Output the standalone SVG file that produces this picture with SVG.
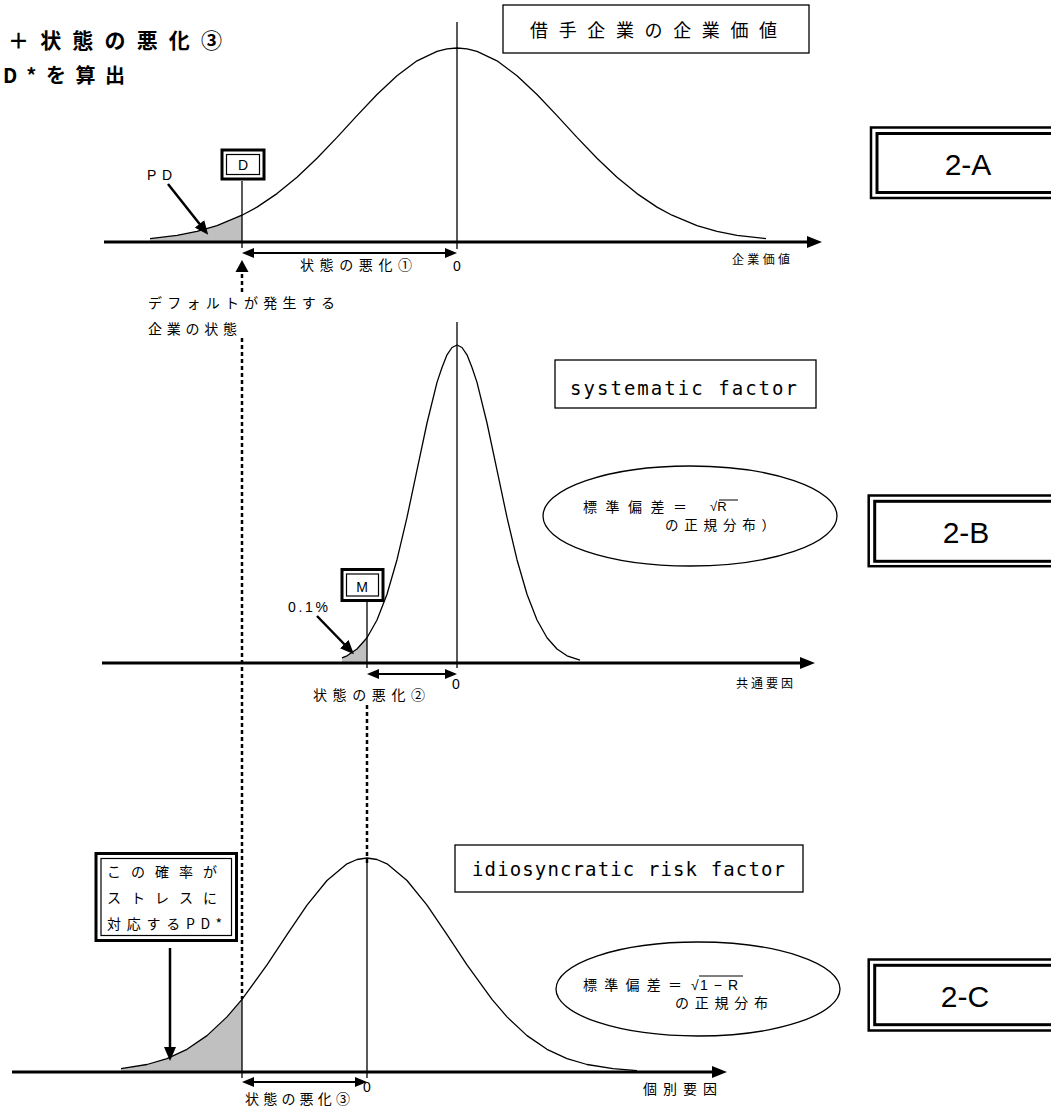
<svg xmlns="http://www.w3.org/2000/svg" width="1051" height="1109" viewBox="0 0 1051 1109">
  <style>
    .jp { font-family: "Noto Sans CJK JP", "Liberation Sans", sans-serif; fill: #000; }
    .lat { font-family: "Liberation Sans", Arial, sans-serif; fill: #000; }
    .mono { font-family: "DejaVu Sans Mono", "Liberation Mono", monospace; fill: #000; }
    .curve { fill: none; stroke: #000; stroke-width: 1.3; stroke-linejoin: round; }
    .shade { fill: #c0c0c0; stroke: none; }
    .axis { stroke: #000; stroke-width: 3; fill: none; }
    .thin { stroke: #000; stroke-width: 1.3; fill: none; }
    .dim { stroke: #000; stroke-width: 2; fill: none; }
    .dash { stroke: #000; stroke-width: 2.5; stroke-dasharray: 4 3; fill: none; }
    .ptr { stroke: #000; stroke-width: 2.5; fill: none; }
    .box { fill: #fff; stroke: #000; stroke-width: 1.3; }
    .frameOut { fill: #fff; stroke: #000; stroke-width: 2.5; }
    .frameIn { fill: none; stroke: #000; stroke-width: 3; }
    .tagOut { fill: #fff; stroke: #000; stroke-width: 3; }
    .tagIn { fill: none; stroke: #000; stroke-width: 1.2; }
  </style>
  <defs>
    <marker id="axisHead" markerUnits="userSpaceOnUse" markerWidth="16" markerHeight="12" refX="4" refY="6" orient="auto">
      <path d="M0,0 L15,6 L0,12 z" fill="#000"/>
    </marker>
    <marker id="dimHead" markerUnits="userSpaceOnUse" markerWidth="12" markerHeight="10" refX="3" refY="5" orient="auto-start-reverse">
      <path d="M0,0 L12,5 L0,10 z" fill="#000"/>
    </marker>
    <marker id="ptrHead" markerUnits="userSpaceOnUse" markerWidth="14" markerHeight="12" refX="4" refY="6" orient="auto">
      <path d="M0,0 L14,6 L0,12 z" fill="#000"/>
    </marker>
  </defs>

  <!-- heading -->
  <g id="heading">
    <text class="jp" x="8" y="48" font-size="21" font-weight="bold" textLength="214" lengthAdjust="spacing">＋状態の悪化③</text>
    <text class="jp" x="3" y="83" font-size="20" font-weight="bold" textLength="122" lengthAdjust="spacing">D*を算出</text>
  </g>

  <!-- panel 2-A : firm value -->
  <g id="panelA">
    <polygon class="shade" points="150,242 150,238.6 177,235.3 197,231.3 217,225.6 242,215.2 242,242"/>
    <polyline class="curve" points="150,238.6 177,235.3 197,231.3 217,225.6 242,215.2 257,207.1 277,193.6 297,177.2 317,158.2 337,137.4 357,115.6 377,94.5 397,75.7 417,60.8 437,51.3 447,48.8 457,48 467,48.8 477,51.3 497,60.8 517,75.7 537,94.5 557,115.6 577,137.4 597,158.2 617,177.2 637,193.6 657,207.1 672,215.2 697,225.6 717,231.3 737,235.3 766,238.6"/>
    <line class="thin" x1="457" y1="22" x2="457" y2="249"/>
    <line class="thin" x1="242" y1="181" x2="242" y2="248"/>
  </g>
  <g id="titleA">
    <rect class="box" x="503" y="5" width="306" height="48"/>
    <text class="jp" x="530" y="37" font-size="18" textLength="247" lengthAdjust="spacing">借手企業の企業価値</text>
  </g>
  <g id="boxD">
    <rect class="tagOut" x="222" y="150" width="42" height="29"/>
    <rect class="tagIn" x="226.5" y="154.5" width="33" height="20"/>
    <text class="lat" x="243" y="170" font-size="14" text-anchor="middle">D</text>
  </g>
  <g id="labelsA">
    <text class="lat" x="147" y="180" font-size="14" textLength="25" lengthAdjust="spacing">PD</text>
    <text class="jp" x="300" y="270" font-size="14" textLength="112" lengthAdjust="spacing">状態の悪化①</text>
    <text class="lat" x="457" y="271" font-size="14" text-anchor="middle">0</text>
    <text class="jp" x="732" y="264" font-size="12" textLength="58" lengthAdjust="spacing">企業価値</text>
    <text class="jp" x="148" y="308" font-size="14" textLength="187" lengthAdjust="spacing">デフォルトが発生する</text>
    <text class="jp" x="148" y="334" font-size="14" textLength="89" lengthAdjust="spacing">企業の状態</text>
  </g>
  <g id="tagA">
    <rect class="frameOut" x="871" y="127.5" width="200" height="70.5"/>
    <rect class="frameIn" x="877" y="133.5" width="200" height="59"/>
    <text class="lat" x="968" y="175" font-size="30" text-anchor="middle">2-A</text>
  </g>

  <!-- panel 2-B : systematic factor -->
  <g id="panelB">
    <polygon class="shade" points="342,663 342,657.9 347,655.8 357,649 367,637.7 367,663"/>
    <polyline class="curve" points="342,657.9 347,655.8 357,649 367,637.7 377,620 387,594.2 397,559.7 407,517.4 417,470.1 427,423 437,382.4 442,367.5 447,354.8 452,347.5 457,345 462,347.5 467,354.8 472,367.5 477,382.4 487,423 497,470.1 507,517.4 517,559.7 527,594.2 537,620 547,637.7 557,649 567,655.8 580,660.2"/>
    <line class="thin" x1="457" y1="322" x2="457" y2="668"/>
    <line class="thin" x1="367" y1="602" x2="367" y2="668"/>
  </g>
  <g id="titleB">
    <rect class="box" x="555" y="360" width="261" height="48"/>
    <text class="mono" x="570" y="395" font-size="19" textLength="227" lengthAdjust="spacing">systematic factor</text>
  </g>
  <g id="noteB">
    <ellipse class="box" cx="690" cy="516" rx="147" ry="50"/>
    <text class="jp" x="583" y="512" font-size="14" textLength="104" lengthAdjust="spacing">標準偏差＝</text>
    <text class="lat" x="710" y="511" font-size="13">√R</text>
    <line x1="719" y1="500" x2="738" y2="500" stroke="#000" stroke-width="1"/>
    <text class="jp" x="665" y="530" font-size="13.5" textLength="110" lengthAdjust="spacing">の正規分布）</text>
  </g>
  <g id="boxM">
    <rect class="tagOut" x="342" y="569.5" width="41" height="31"/>
    <rect class="tagIn" x="346.5" y="574" width="32" height="22"/>
    <text class="lat" x="362" y="592" font-size="14" text-anchor="middle">M</text>
  </g>
  <g id="labelsB">
    <text class="lat" x="288" y="612" font-size="14" textLength="40" lengthAdjust="spacing">0.1%</text>
    <text class="lat" x="456" y="689" font-size="14" text-anchor="middle">0</text>
    <text class="jp" x="313" y="700" font-size="14" textLength="112" lengthAdjust="spacing">状態の悪化②</text>
    <text class="jp" x="736" y="688" font-size="12" textLength="57" lengthAdjust="spacing">共通要因</text>
  </g>
  <g id="tagB">
    <rect class="frameOut" x="868.7" y="495.5" width="200" height="70.7"/>
    <rect class="frameIn" x="874.7" y="501.3" width="200" height="60"/>
    <text class="lat" x="966" y="543" font-size="30" text-anchor="middle">2-B</text>
  </g>

  <!-- panel 2-C : idiosyncratic risk factor -->
  <g id="panelC">
    <polygon class="shade" points="121,1072 121,1068.7 147,1064.5 167,1058.6 187,1049.3 207,1035.6 227,1016.9 242,999.4 242,1072"/>
    <polyline class="curve" points="121,1068.7 147,1064.5 167,1058.6 187,1049.3 207,1035.6 227,1016.9 242,999.4 267,964.9 287,934.6 307,905.2 327,880.5 347,863.8 357,859.5 367,858 377,859.5 387,863.8 407,880.5 427,905.2 447,934.6 467,964.9 492,999.4 507,1016.9 527,1035.6 547,1049.3 567,1058.6 587,1064.5 613,1068.7 637,1070.6"/>
    <line class="thin" x1="367" y1="858" x2="367" y2="1078"/>
    <line class="thin" x1="242" y1="999" x2="242" y2="1078"/>
  </g>
  <g id="titleC">
    <rect class="box" x="455" y="845" width="348" height="47"/>
    <text class="mono" x="472" y="876" font-size="19" textLength="313" lengthAdjust="spacing">idiosyncratic risk factor</text>
  </g>
  <g id="noteC">
    <ellipse class="box" cx="698" cy="989" rx="142" ry="47"/>
    <text class="jp" x="583" y="990" font-size="14" textLength="99" lengthAdjust="spacing">標準偏差＝</text>
    <text class="lat" x="691" y="990" font-size="14">√</text>
    <text class="lat" x="700" y="990" font-size="14" textLength="38" lengthAdjust="spacing">1 − R</text>
    <line x1="699" y1="976" x2="743" y2="976" stroke="#000" stroke-width="1"/>
    <text class="jp" x="675" y="1008" font-size="14" textLength="93" lengthAdjust="spacing">の正規分布</text>
  </g>
  <g id="boxPD">
    <rect class="tagOut" x="96" y="853.5" width="140.5" height="87"/>
    <rect class="tagIn" x="101" y="858.5" width="130.5" height="77"/>
    <text class="jp" x="107" y="877" font-size="14" textLength="110" lengthAdjust="spacing">この確率が</text>
    <text class="jp" x="107" y="903" font-size="14" textLength="110" lengthAdjust="spacing">ストレスに</text>
    <text class="jp" x="107" y="929" font-size="14" textLength="115" lengthAdjust="spacing">対応するPD*</text>
  </g>
  <g id="labelsC">
    <text class="lat" x="367" y="1092" font-size="14" text-anchor="middle">0</text>
    <text class="jp" x="245" y="1104" font-size="14" textLength="105" lengthAdjust="spacing">状態の悪化③</text>
    <text class="jp" x="643" y="1094" font-size="14" textLength="74" lengthAdjust="spacing">個別要因</text>
  </g>
  <g id="tagC">
    <rect class="frameOut" x="868.7" y="959.5" width="200" height="71"/>
    <rect class="frameIn" x="874.7" y="965.3" width="200" height="59.4"/>
    <text class="lat" x="965" y="1007" font-size="30" text-anchor="middle">2-C</text>
  </g>

  <!-- axes, dimension arrows, pointers and guide lines -->
  <g id="connectors">
    <line class="axis" x1="104" y1="242" x2="811" y2="242" marker-end="url(#axisHead)"/>
    <line class="axis" x1="102" y1="663" x2="804" y2="663" marker-end="url(#axisHead)"/>
    <line class="axis" x1="12" y1="1072" x2="716" y2="1072" marker-end="url(#axisHead)"/>

    <line class="dim" x1="251" y1="253" x2="448" y2="253" marker-start="url(#dimHead)" marker-end="url(#dimHead)"/>
    <line class="dim" x1="376" y1="674" x2="448" y2="674" marker-start="url(#dimHead)" marker-end="url(#dimHead)"/>
    <line class="dim" x1="251" y1="1082" x2="358" y2="1082" marker-start="url(#dimHead)" marker-end="url(#dimHead)"/>

    <line class="ptr" x1="168" y1="184" x2="202" y2="227" marker-end="url(#ptrHead)"/>
    <line class="ptr" x1="317" y1="616" x2="347" y2="647" marker-end="url(#ptrHead)"/>
    <line class="ptr" x1="170" y1="948" x2="170" y2="1051" marker-end="url(#ptrHead)"/>

    <line class="dash" x1="242" y1="292" x2="242" y2="270"/>
    <polygon points="242,260 235.5,272 248.5,272" fill="#000"/>

    <line class="dash" x1="242" y1="338" x2="242" y2="999"/>
    <line class="dash" x1="367" y1="705" x2="367" y2="866"/>
  </g>
</svg>
